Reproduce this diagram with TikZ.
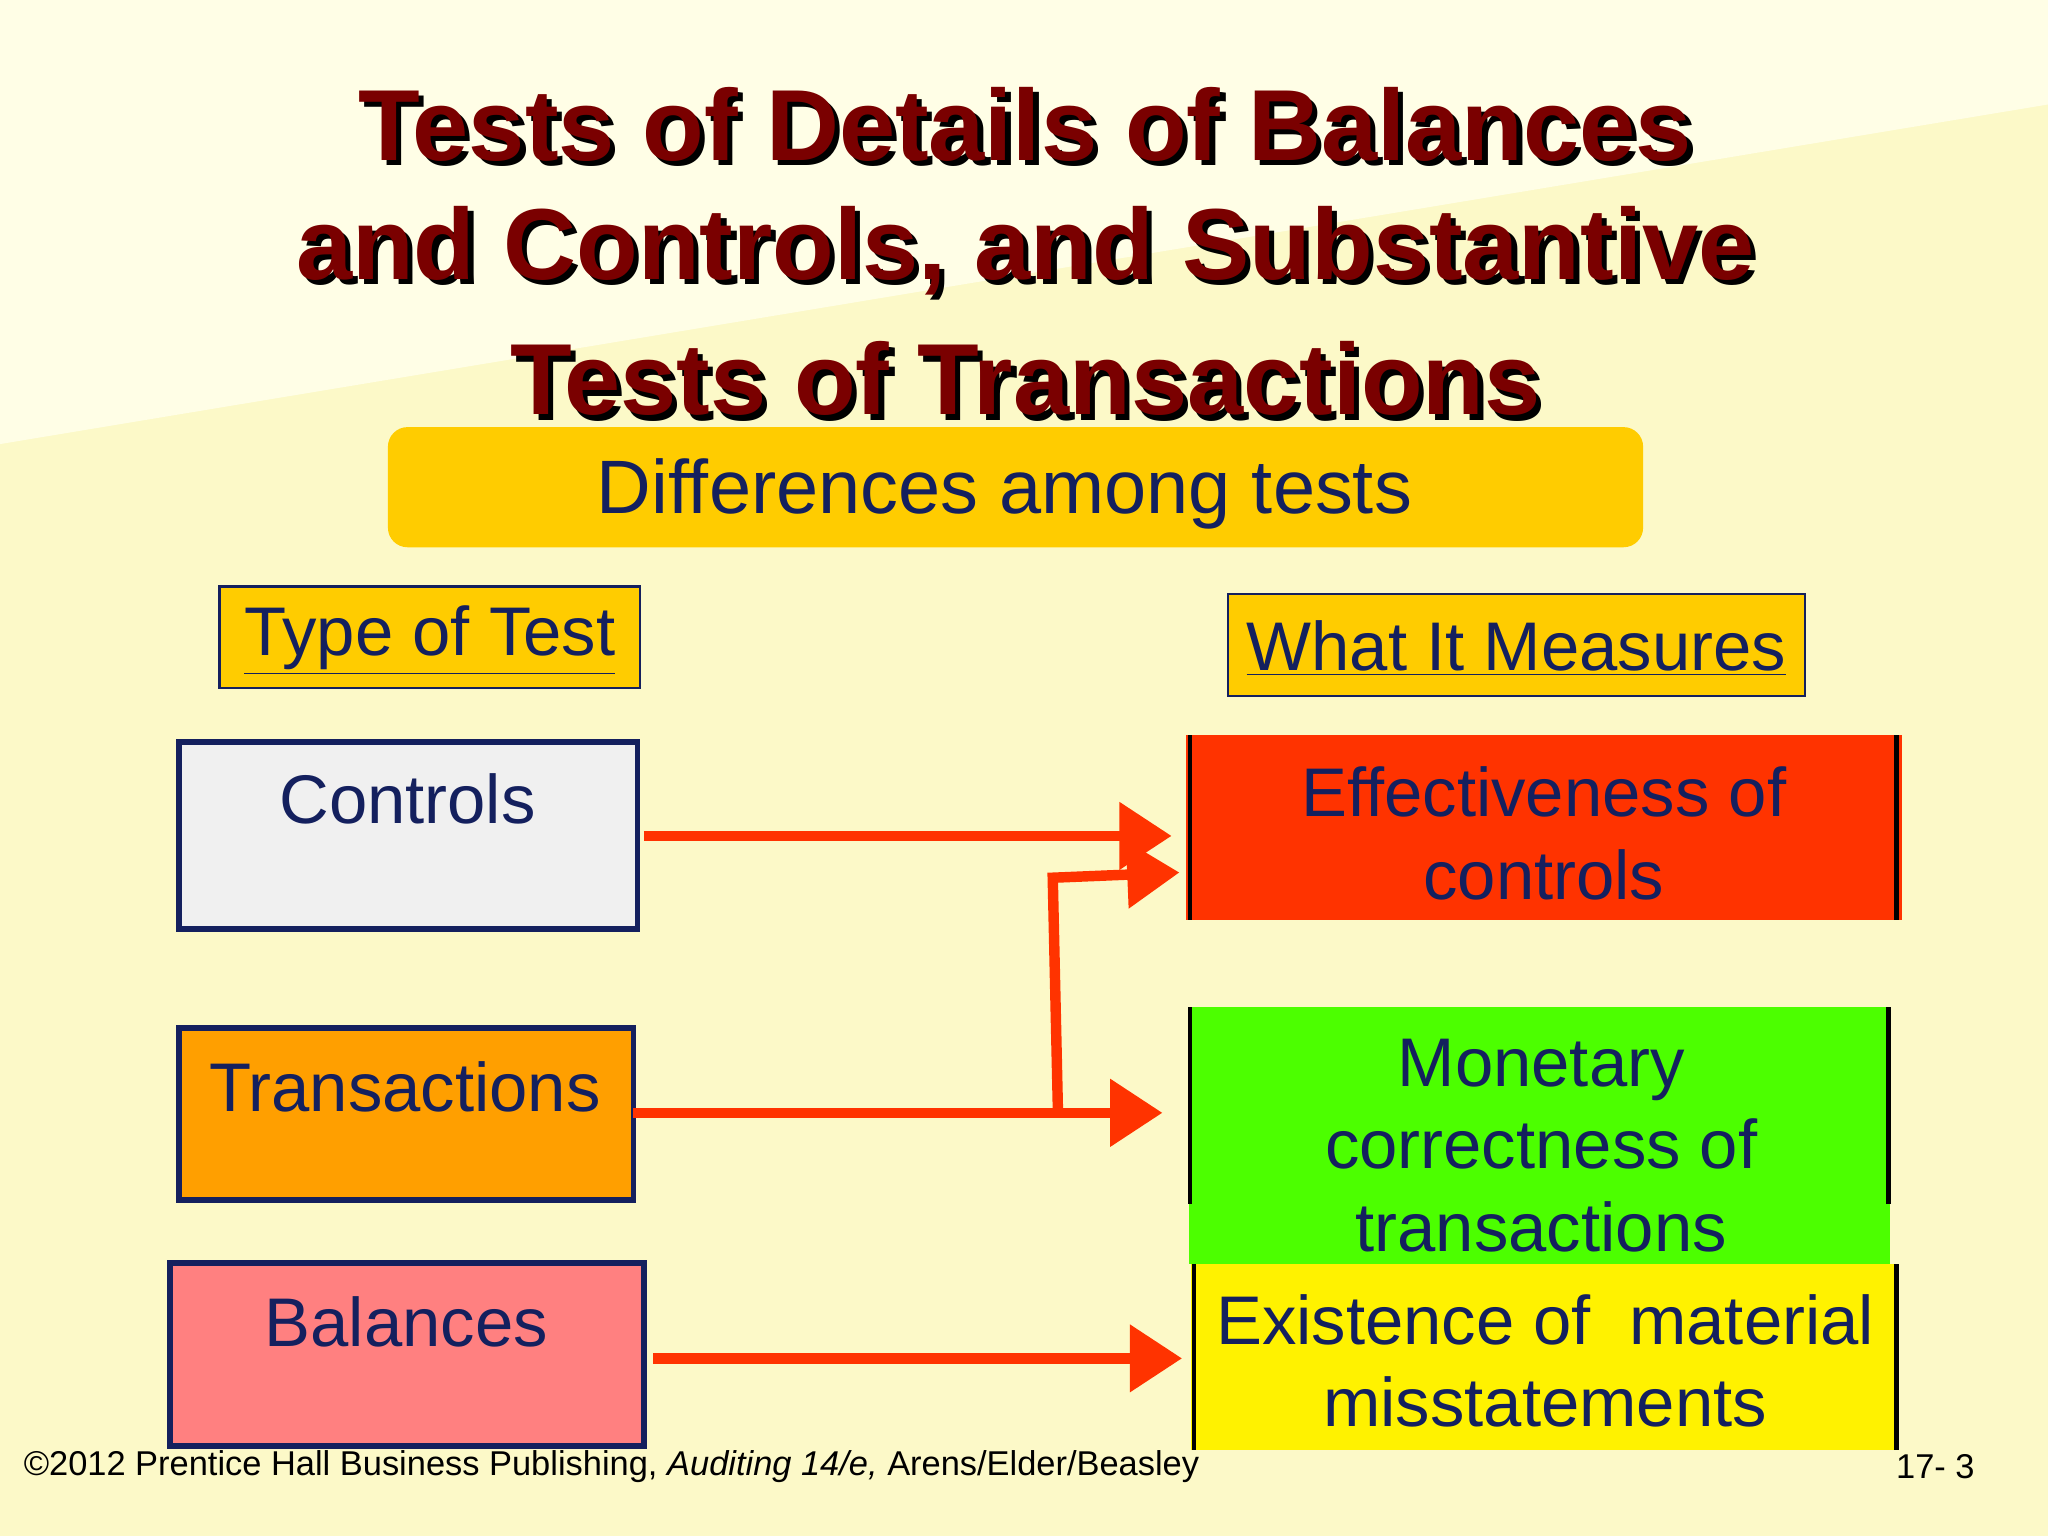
\documentclass[tikz,border=0pt]{standalone}
\usepackage{fontspec}
\setmainfont{Liberation Sans}
\usetikzlibrary{arrows.meta}
\definecolor{bg}{HTML}{FCF9C8}
\definecolor{bgl}{HTML}{FFFEE6}
\definecolor{navy}{HTML}{14205E}
\definecolor{dred}{HTML}{7A0000}
\definecolor{gold}{HTML}{FFCC00}
\definecolor{arr}{HTML}{FF3300}
\tikzset{
 x=0.02cm,y=-0.02cm,
 txt/.style={text=navy,font=\fontsize{30}{36}\selectfont,align=center},
 htxt/.style={text=navy,font=\fontsize{30}{36}\selectfont},
 tbox/.style={draw=navy,line width=2.5pt,inner sep=0pt},
 link/.style={draw=arr,line width=0.16cm,-{Triangle[length=0.8cm,width=1cm]}},
}
\begin{document}
\begin{tikzpicture}
\fill[bg] (0,0) rectangle (1568,1176);
\fill[bgl] (0,0) -- (1568,0) -- (1568,80) -- (0,340) -- cycle;
\useasboundingbox (0,0) rectangle (1568,1176);
% title
\foreach \t/\yy in {Tests of Details of Balances/95,{and Controls, and Substantive}/192,Tests of Transactions/290}{
 \node[font=\bfseries\fontsize{44}{50}\selectfont,text=black] at (789,\yy+4) {\t};
 \node[font=\bfseries\fontsize{44}{50}\selectfont,text=dred] at (785,\yy) {\t};}
\fill[gold,rounded corners=0.3cm] (297,327) rectangle (1258,419);
\node[text=navy,font=\fontsize{33}{40}\selectfont] (diff) at (769,378) {Differences among tests};
% headers
\draw[navy,fill=gold,line width=1pt] (168,449) rectangle (490,527);
\node[htxt] (tt) at (329,490) {\underline{Type of Test}};
\draw[navy,fill=gold,line width=1pt] (940,455) rectangle (1382,533);
\node[htxt] (wm) at (1161,496) {\underline{What It Measures}};
% left boxes
\draw[tbox,fill=gray!12] (137,568) rectangle (488,711);
\node[txt] (ctl) at (312,612) {Controls};
\coordinate (ctlR) at (493,640);
\draw[tbox,fill=orange!75!yellow] (137,787) rectangle (485,919);
\node[txt] (trn) at (310,832) {Transactions};
\coordinate (trnR) at (485,852);
\draw[tbox,fill=red!50!white] (130,967) rectangle (493,1107);
\node[txt] (bal) at (311,1012) {Balances};
\coordinate (balR) at (500,1040);
% right boxes
\fill[arr] (908,563) rectangle (1456,704);
\draw[line width=2pt] (911,563) -- (911,704) (1452,563)--(1452,704);
\node[txt] (eff) at (1182,638) {Effectiveness of\\controls};
\fill[green!60!lime] (910,771) rectangle (1447,968);
\draw[line width=2pt] (911,771) -- (911,922) (1446,771)--(1446,922);
\node[txt] (mon) at (1180,877) {Monetary\\correctness of\\transactions};
\fill[yellow] (912,968) rectangle (1454,1110);
\draw[line width=2pt] (914,968) -- (914,1110) (1452,968)--(1452,1110);
\node[txt] (ext) at (1183,1042) {Existence of\ \ material\\misstatements};
% arrows
\coordinate (effa) at (897,640);
\coordinate (effb) at (903,668);
\coordinate (mona) at (890,852);
\coordinate (exta) at (905,1040);
\coordinate (j1) at (810,852);
\coordinate (j2) at (806,672);
\draw[link] (ctlR) -- (effa);
\draw[link] (trnR) -- (mona);
\draw[link] (balR) -- (exta);
\draw[link] (j1) -- (j2) -- (effb);
% footer
\node[anchor=west,font=\fontsize{15}{17}\selectfont] (ft) at (12,1123) {©2012 Prentice Hall Business Publishing, \textit{Auditing 14/e,} Arens/Elder/Beasley};
\node[anchor=east,font=\fontsize{15}{17}\selectfont] (pg) at (1518,1123) {17- 3};
\end{tikzpicture}
\end{document}
